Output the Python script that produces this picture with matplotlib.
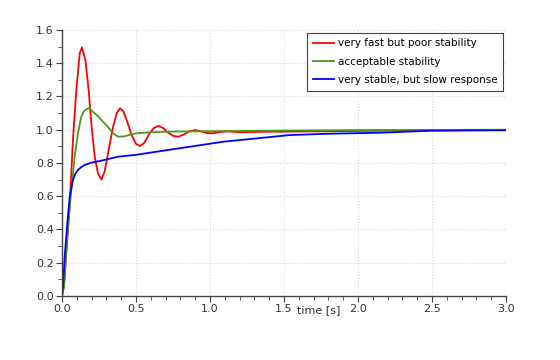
import matplotlib
matplotlib.use('Agg')
import matplotlib.pyplot as plt
from matplotlib.ticker import MultipleLocator, FormatStrFormatter

# ─── Data ────────────────────────────────────────────────────────────────────

t_fast = [0, 0.0135, 0.029, 0.052, 0.074, 0.097, 0.12, 0.135, 0.158, 0.18,
          0.198, 0.221, 0.243, 0.266, 0.288, 0.311, 0.345, 0.37, 0.392, 0.415,
          0.44, 0.47, 0.5, 0.527, 0.555, 0.59, 0.62, 0.651, 0.68, 0.72, 0.755,
          0.786, 0.82, 0.86, 0.899, 0.94, 0.98, 1.02, 1.07, 1.12, 1.2, 1.4,
          1.7, 2.0, 2.5, 3.0]
y_fast = [0, 0.056, 0.26, 0.537, 0.94, 1.24, 1.46, 1.496, 1.42, 1.24,
          1.04, 0.838, 0.738, 0.70, 0.748, 0.858, 1.018, 1.10, 1.129, 1.11,
          1.05, 0.97, 0.915, 0.902, 0.92, 0.975, 1.01, 1.023, 1.012, 0.98, 0.962,
          0.958, 0.97, 0.99, 0.998, 0.99, 0.98, 0.979, 0.987, 0.99, 0.985, 0.988,
          0.99, 0.993, 0.997, 0.999]

t_ok = [0, 0.0135, 0.04, 0.063, 0.086, 0.108, 0.13, 0.15, 0.164, 0.18, 0.2,
        0.221, 0.245, 0.266, 0.29, 0.311, 0.335, 0.36, 0.38, 0.42, 0.46, 0.505,
        0.6, 0.752, 1.09, 1.5, 2.0, 2.5, 3.0]
y_ok = [0, 0.06, 0.417, 0.638, 0.838, 0.979, 1.079, 1.113, 1.123, 1.129, 1.115,
        1.099, 1.08, 1.059, 1.037, 1.015, 0.99, 0.968, 0.958, 0.96, 0.97, 0.979,
        0.985, 0.989, 0.992, 0.995, 0.998, 0.999, 1.0]

t_slow = [0, 0.007, 0.018, 0.036, 0.052, 0.074, 0.09, 0.108, 0.13, 0.153,
          0.198, 0.266, 0.378, 0.5, 0.64, 0.865, 1.09, 1.315, 1.54, 1.8, 2.15,
          2.49, 3.0]
y_slow = [0, 0.056, 0.236, 0.437, 0.597, 0.698, 0.735, 0.758, 0.775, 0.788,
          0.802, 0.814, 0.838, 0.849, 0.868, 0.898, 0.928, 0.948, 0.968, 0.976,
          0.982, 0.994, 0.997]

labels = ['very fast but poor stability',
          'acceptable stability',
          'very stable, but slow response']

# ─── Figure ──────────────────────────────────────────────────────────────────

fig = plt.figure(figsize=(5.6, 3.6), dpi=100, facecolor='white')
ax = fig.add_axes([0.1107, 0.1778, 0.7929, 0.7389])

ax.plot(t_fast, y_fast, color='#ff0000', lw=1.3, label=labels[0])
ax.plot(t_ok, y_ok, color='#4b9a17', lw=1.3, label=labels[1])
ax.plot(t_slow, y_slow, color='#0000ff', lw=1.3, label=labels[2])

ax.set_xlim(0, 3.0)
ax.set_ylim(0, 1.6)
ax.xaxis.set_major_locator(MultipleLocator(0.5))
ax.xaxis.set_minor_locator(MultipleLocator(0.1))
ax.yaxis.set_major_locator(MultipleLocator(0.2))
ax.yaxis.set_minor_locator(MultipleLocator(0.1))
ax.xaxis.set_major_formatter(FormatStrFormatter('%.1f'))
ax.yaxis.set_major_formatter(FormatStrFormatter('%.1f'))

ax.grid(True, which='major', linestyle=':', color='#d8d8d8', lw=0.8)
for side in ('top', 'right'):
    ax.spines[side].set_visible(False)
for side in ('left', 'bottom'):
    ax.spines[side].set_color('#444444')
    ax.spines[side].set_linewidth(1.0)

ax.tick_params(which='major', direction='out', length=4, color='#444444',
               labelsize=8, labelcolor='#333333', pad=2)
ax.tick_params(which='minor', direction='out', length=3, color='#444444')

ax.text(0.577, -0.035, 'time [s]', transform=ax.transAxes, ha='center',
        va='top', fontsize=8, color='#333333')

leg = ax.legend(loc='upper right', fontsize=7.5, frameon=True, fancybox=False,
                edgecolor='#444444', framealpha=1.0, borderaxespad=0.25,
                handlelength=2.0, handletextpad=0.4, labelspacing=0.8,
                borderpad=0.55)
leg.get_frame().set_linewidth(0.8)

fig.savefig('out.png', dpi=100, facecolor='white')
